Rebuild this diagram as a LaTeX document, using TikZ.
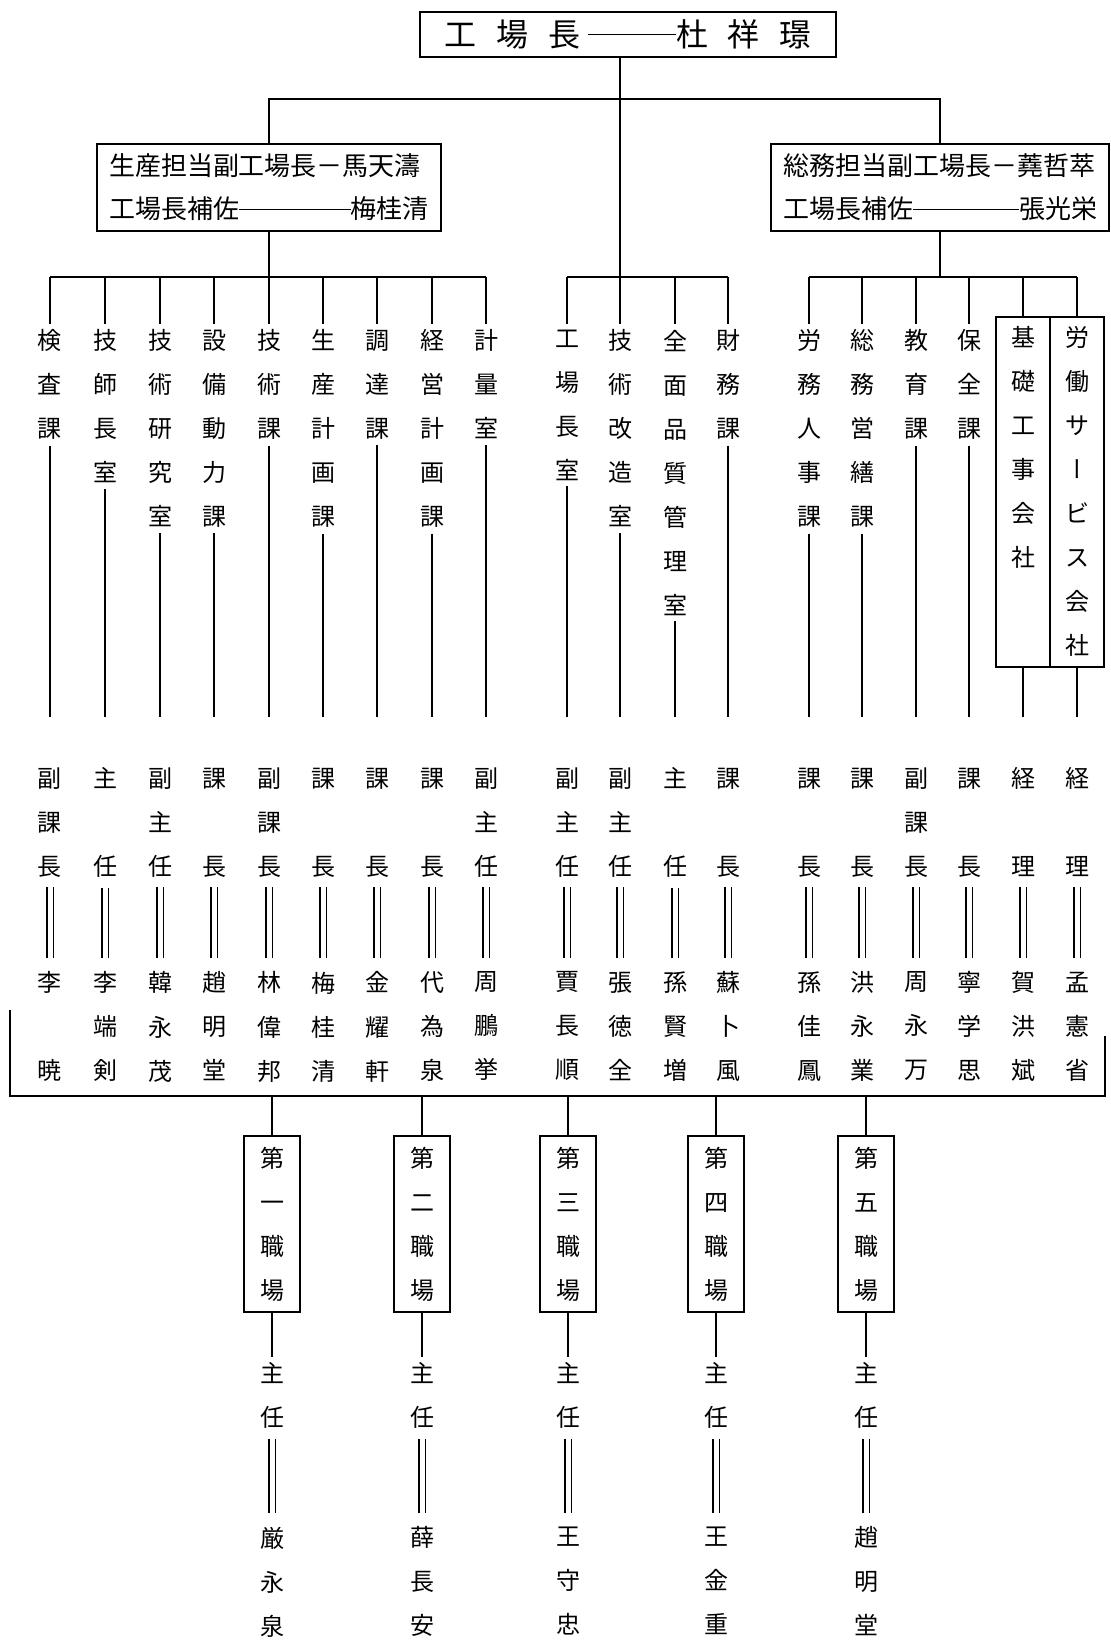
\documentclass[tikz,border=0pt]{standalone}
\usepackage{fontspec}
\setmainfont{Noto Sans CJK JP}
\newfontfamily\jpv[RawFeature=+vert]{Noto Sans CJK JP}

\begin{document}
\begin{tikzpicture}[
  x=0.5pt, y=-0.5pt, line width=0.8pt,
  headbox/.style={rectangle, draw, font=\fontsize{16}{20}\selectfont,
                  minimum width=208pt, minimum height=22.5pt, inner sep=0pt},
  vpbox/.style={rectangle, draw, align=left, font=\fontsize{13}{21.5}\selectfont,
                inner xsep=6pt, inner ysep=5pt},
  dept/.style={anchor=north, align=center, font=\fontsize{12}{22}\selectfont,
               inner xsep=0pt, inner ysep=2.5pt},
  cobox/.style={dept, draw, minimum width=27pt, inner ysep=5pt},
  wsbox/.style={dept, draw, minimum width=28pt, inner ysep=5.5pt},
  dbl/.style={double, double distance=2.5pt, line width=0.6pt,
              shorten <=2pt, shorten >=4pt}
]
\useasboundingbox (0,0) rectangle (1110,1640);
\coordinate (tb) at (0,99);
\coordinate (b)  at (0,277);
\coordinate (e)  at (0,717);
\coordinate (br) at (0,1096);

% top
\node[headbox] (head) at (628,34.5)
  {工\hspace{10pt}場\hspace{10pt}長\hspace{4pt}\rule[0.35em]{44pt}{0.8pt}杜\hspace{10pt}祥\hspace{10pt}璟};
\node[vpbox] (vpa) at (269,187.5)
  {生産担当副工場長－馬天濤\\工場長補佐\rule[0.35em]{56pt}{0.6pt}梅桂清};
\node[vpbox] (vpb) at (940,187.5)
  {総務担当副工場長－蕘哲萃\\工場長補佐\rule[0.35em]{53pt}{0.6pt}張光栄};

% departments
\node[dept] (d1)  at (50,324)  {検\\査\\課};
\node[dept] (d2)  at (105,324) {技\\師\\長\\室};
\node[dept] (d3)  at (160,324) {技\\術\\研\\究\\室};
\node[dept] (d4)  at (214,324) {設\\備\\動\\力\\課};
\node[dept] (d5)  at (269,324) {技\\術\\課};
\node[dept] (d6)  at (323,324) {生\\産\\計\\画\\課};
\node[dept] (d7)  at (377,324) {調\\達\\課};
\node[dept] (d8)  at (432,324) {経\\営\\計\\画\\課};
\node[dept] (d9)  at (486,324) {計\\量\\室};
\node[dept] (d10) at (567,324) {工\\場\\長\\室};
\node[dept] (d11) at (620,324) {技\\術\\改\\造\\室};
\node[dept] (d12) at (675,324) {全\\面\\品\\質\\管\\理\\室};
\node[dept] (d13) at (728,324) {財\\務\\課};
\node[dept] (d14) at (809,324) {労\\務\\人\\事\\課};
\node[dept] (d15) at (862,324) {総\\務\\営\\繕\\課};
\node[dept] (d16) at (916,324) {教\\育\\課};
\node[dept] (d17) at (969,324) {保\\全\\課};
\node[cobox] (d18) at (1023,316) {基\\礎\\工\\事\\会\\社\\\phantom{社}\\\phantom{社}};
\node[cobox] (d19) at (1077,316) {労\\働\\サ\\{\jpv ー}\\ビ\\ス\\会\\社};

% heads of sections
\node[dept] (t1)  at (50,762)   {副\\課\\長};
\node[dept] (t2)  at (105,762)  {主\\\phantom{主}\\任};
\node[dept] (t3)  at (160,762)  {副\\主\\任};
\node[dept] (t4)  at (214,762)  {課\\\phantom{課}\\長};
\node[dept] (t5)  at (269,762)  {副\\課\\長};
\node[dept] (t6)  at (323,762)  {課\\\phantom{課}\\長};
\node[dept] (t7)  at (377,762)  {課\\\phantom{課}\\長};
\node[dept] (t8)  at (432,762)  {課\\\phantom{課}\\長};
\node[dept] (t9)  at (486,762)  {副\\主\\任};
\node[dept] (t10) at (567,762)  {副\\主\\任};
\node[dept] (t11) at (620,762)  {副\\主\\任};
\node[dept] (t12) at (675,762)  {主\\\phantom{主}\\任};
\node[dept] (t13) at (728,762)  {課\\\phantom{課}\\長};
\node[dept] (t14) at (809,762)  {課\\\phantom{課}\\長};
\node[dept] (t15) at (862,762)  {課\\\phantom{課}\\長};
\node[dept] (t16) at (916,762)  {副\\課\\長};
\node[dept] (t17) at (969,762)  {課\\\phantom{課}\\長};
\node[dept] (t18) at (1023,762) {経\\\phantom{経}\\理};
\node[dept] (t19) at (1077,762) {経\\\phantom{経}\\理};

\node[dept] (n1)  at (50,966)   {李\\\phantom{李}\\暁};
\node[dept] (n2)  at (105,966)  {李\\端\\剣};
\node[dept] (n3)  at (160,966)  {韓\\永\\茂};
\node[dept] (n4)  at (214,966)  {趙\\明\\堂};
\node[dept] (n5)  at (269,966)  {林\\偉\\邦};
\node[dept] (n6)  at (323,966)  {梅\\桂\\清};
\node[dept] (n7)  at (377,966)  {金\\耀\\軒};
\node[dept] (n8)  at (432,966)  {代\\為\\泉};
\node[dept] (n9)  at (486,966)  {周\\鵬\\挙};
\node[dept] (n10) at (567,966)  {賈\\長\\順};
\node[dept] (n11) at (620,966)  {張\\徳\\全};
\node[dept] (n12) at (675,966)  {孫\\賢\\増};
\node[dept] (n13) at (728,966)  {蘇\\卜\\風};
\node[dept] (n14) at (809,966)  {孫\\佳\\鳳};
\node[dept] (n15) at (862,966)  {洪\\永\\業};
\node[dept] (n16) at (916,966)  {周\\永\\万};
\node[dept] (n17) at (969,966)  {寧\\学\\思};
\node[dept] (n18) at (1023,966) {賀\\洪\\斌};
\node[dept] (n19) at (1077,966) {孟\\憲\\省};

% workshops
\node[wsbox] (w1) at (272,1135) {第\\一\\職\\場};
\node[wsbox] (w2) at (422,1135) {第\\二\\職\\場};
\node[wsbox] (w3) at (568,1135) {第\\三\\職\\場};
\node[wsbox] (w4) at (716,1135) {第\\四\\職\\場};
\node[wsbox] (w5) at (866,1135) {第\\五\\職\\場};
\node[dept] (wt1) at (272,1357) {主\\任};
\node[dept] (wt2) at (422,1357) {主\\任};
\node[dept] (wt3) at (568,1357) {主\\任};
\node[dept] (wt4) at (716,1357) {主\\任};
\node[dept] (wt5) at (866,1357) {主\\任};
\node[dept] (wn1) at (272,1521) {厳\\永\\泉};
\node[dept] (wn2) at (422,1521) {薛\\長\\安};
\node[dept] (wn3) at (568,1521) {王\\守\\忠};
\node[dept] (wn4) at (716,1521) {王\\金\\重};
\node[dept] (wn5) at (866,1521) {趙\\明\\堂};

% lines
\draw (vpa.north) |- (vpb.north |- tb) -- (vpb.north);
\draw (head.south -| d11.north) -- (d11.north);
\draw (vpa.south) -- (d5.north);
\draw (vpb.south) -- (vpb.south |- b);
\draw (d1.north |- b) -- (d9.north |- b);
\draw (d10.north |- b) -- (d13.north |- b);
\draw (d14.north |- b) -- (d19.north |- b);
\draw (d1.north |- b) -- (d1.north) (d1.south) -- (d1.south |- e);
\draw (d2.north |- b) -- (d2.north) (d2.south) -- (d2.south |- e);
\draw (d3.north |- b) -- (d3.north) (d3.south) -- (d3.south |- e);
\draw (d4.north |- b) -- (d4.north) (d4.south) -- (d4.south |- e);
\draw (d5.south) -- (d5.south |- e);
\draw (d6.north |- b) -- (d6.north) (d6.south) -- (d6.south |- e);
\draw (d7.north |- b) -- (d7.north) (d7.south) -- (d7.south |- e);
\draw (d8.north |- b) -- (d8.north) (d8.south) -- (d8.south |- e);
\draw (d9.north |- b) -- (d9.north) (d9.south) -- (d9.south |- e);
\draw (d10.north |- b) -- (d10.north) (d10.south) -- (d10.south |- e);
\draw (d11.south) -- (d11.south |- e);
\draw (d12.north |- b) -- (d12.north) (d12.south) -- (d12.south |- e);
\draw (d13.north |- b) -- (d13.north) (d13.south) -- (d13.south |- e);
\draw (d14.north |- b) -- (d14.north) (d14.south) -- (d14.south |- e);
\draw (d15.north |- b) -- (d15.north) (d15.south) -- (d15.south |- e);
\draw (d16.north |- b) -- (d16.north) (d16.south) -- (d16.south |- e);
\draw (d17.north |- b) -- (d17.north) (d17.south) -- (d17.south |- e);
\draw (d18.north |- b) -- (d18.north) (d18.south) -- (d18.south |- e);
\draw (d19.north |- b) -- (d19.north) (d19.south) -- (d19.south |- e);

\draw[dbl] (t1) -- (n1);   \draw[dbl] (t2) -- (n2);   \draw[dbl] (t3) -- (n3);
\draw[dbl] (t4) -- (n4);   \draw[dbl] (t5) -- (n5);   \draw[dbl] (t6) -- (n6);
\draw[dbl] (t7) -- (n7);   \draw[dbl] (t8) -- (n8);   \draw[dbl] (t9) -- (n9);
\draw[dbl] (t10) -- (n10); \draw[dbl] (t11) -- (n11); \draw[dbl] (t12) -- (n12);
\draw[dbl] (t13) -- (n13); \draw[dbl] (t14) -- (n14); \draw[dbl] (t15) -- (n15);
\draw[dbl] (t16) -- (n16); \draw[dbl] (t17) -- (n17); \draw[dbl] (t18) -- (n18);
\draw[dbl] (t19) -- (n19);

\draw (10,1010) |- (1105,1096) -- (1105,1036);
\draw (w1 |- br) -- (w1); \draw (w2 |- br) -- (w2); \draw (w3 |- br) -- (w3);
\draw (w4 |- br) -- (w4); \draw (w5 |- br) -- (w5);
\draw (w1) -- (wt1); \draw (w2) -- (wt2); \draw (w3) -- (wt3);
\draw (w4) -- (wt4); \draw (w5) -- (wt5);
\draw[dbl] (wt1) -- (wn1); \draw[dbl] (wt2) -- (wn2); \draw[dbl] (wt3) -- (wn3);
\draw[dbl] (wt4) -- (wn4); \draw[dbl] (wt5) -- (wn5);
\end{tikzpicture}
\end{document}
